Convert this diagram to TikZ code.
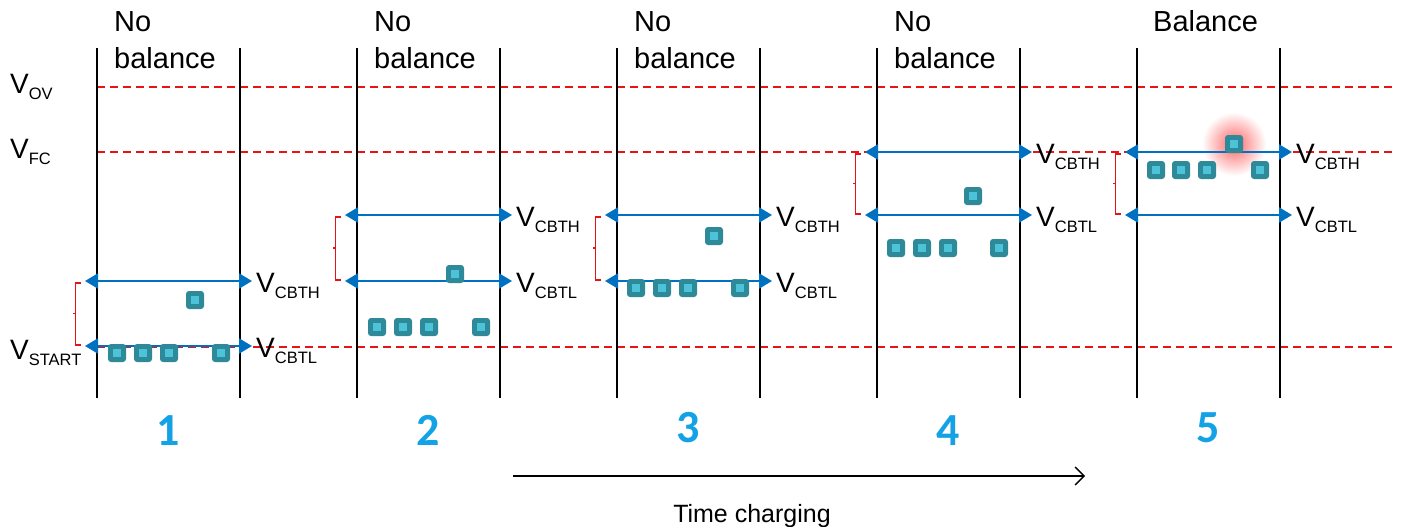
\documentclass[tikz,border=0pt]{standalone}
\usepackage{fontspec}
\setmainfont{Liberation Sans}
\newfontfamily\numfont{Carlito}
\usetikzlibrary{arrows.meta}
\definecolor{lvblue}{RGB}{0,112,192}
\definecolor{lvred}{RGB}{230,20,20}
\definecolor{cellout}{RGB}{46,138,152}
\definecolor{cellin}{RGB}{77,195,218}
\definecolor{numblue}{RGB}{20,162,230}
\newcommand{\vlab}[1]{{\fontsize{28}{28}\selectfont V}\raisebox{-6.5pt}{\fontsize{16.5}{16.5}\selectfont #1}}
\tikzset{
  panelline/.style={black, line width=1.8pt},
  lvline/.style={lvred, line width=1.4pt, dash pattern=on 8pt off 5pt},
  thresh/.style={lvblue, line width=2.2pt, {Triangle[length=13pt,width=15pt]}-{Triangle[length=13pt,width=15pt]}, shorten <=-12pt, shorten >=-12pt},
  bracketline/.style={draw=lvred, line width=1.2pt},
  vtext/.style={anchor=base west, inner sep=0pt},
  titletext/.style={anchor=base west, inner sep=0pt, font=\fontsize{29}{29}\selectfont},
  numtext/.style={anchor=base, inner sep=0pt, text=numblue, font=\numfont\bfseries\fontsize{46}{46}\selectfont},
  cellbox/.style={draw=none, fill=cellout, rounded corners=3pt, minimum size=18pt, inner sep=0pt},
  cellcore/.style={fill=cellin, minimum size=8pt, inner sep=0pt, draw=none},
}
\newcommand{\cellat}[3]{%
  \node[cellbox] (#1) at (#2,#3) {};
  \node[cellcore] (#1c) at (#2,#3) {};}
\begin{document}
\begin{tikzpicture}[x=1pt,y=-1pt]
\useasboundingbox (0,0) rectangle (1403,527);

% glow for the balanced cell (behind)
\shade[inner color=red!60, outer color=white] (1234,144) circle (32);

% voltage levels
\coordinate (ovL) at (97,87);   \coordinate (ovR) at (1395,87);
\coordinate (fcL) at (97,152);  \coordinate (fcR) at (1395,152);
\coordinate (stL) at (97,347);  \coordinate (stR) at (1395,347);
\draw[lvline] (ovL) -- (ovR);
\draw[lvline] (fcL) -- (fcR);
\draw[lvline] (stL) -- (stR);

\node[vtext] (vov) at (10,93) {\vlab{OV}};
\node[vtext] (vfc) at (10,158) {\vlab{FC}};
\node[vtext] (vst) at (10,359) {\vlab{START}};

% panels: left x, high y, low y
\foreach \i/\xl/\yh/\yl in {1/97/281/346, 2/357/215/281, 3/617/215/281, 4/877/152/215, 5/1137/152/215}{
  \pgfmathsetmacro{\xr}{\xl+143}
  \coordinate (t\i) at (\xl,48);
  \coordinate (b\i) at (\xl,398);
  \coordinate (tr\i) at (\xr,48);
  \coordinate (br\i) at (\xr,398);
  \draw[panelline] (t\i) -- (b\i);
  \draw[panelline] (tr\i) -- (br\i);
  \coordinate (hL\i) at (\xl,\yh);
  \coordinate (hR\i) at (\xr,\yh);
  \coordinate (lL\i) at (\xl,\yl);
  \coordinate (lR\i) at (\xr,\yl);
  \draw[thresh] (hL\i) -- (hR\i);
  \draw[thresh] (lL\i) -- (lR\i);
  \node[vtext] (vh\i) at (\xr+16,\yh+11) {\vlab{CBTH}};
  \node[vtext] (vl\i) at (\xr+16,\yl+11) {\vlab{CBTL}};
  % bracket
  \pgfmathsetmacro{\bx}{\xl-21.5}
  \pgfmathsetmacro{\bm}{(\yh+\yl)/2}
  \draw[bracketline] (\bx+5,\yh+2) -- (\bx,\yh+2) -- (\bx,\yl-1) -- (\bx+5,\yl-1);
  \draw[bracketline] (\bx,\bm) -- (\bx-3,\bm);
}

% titles
\node[titletext] (n1a) at (114,32) {No};
\node[titletext] (n1b) at (114,69) {balance};
\node[titletext] (n2a) at (374,32) {No};
\node[titletext] (n2b) at (374,69) {balance};
\node[titletext] (n3a) at (634,32) {No};
\node[titletext] (n3b) at (634,69) {balance};
\node[titletext] (n4a) at (894,32) {No};
\node[titletext] (n4b) at (894,69) {balance};
\node[titletext] (n5a) at (1153,32) {Balance};

% cells
\cellat{c11}{117}{353} \cellat{c12}{143}{353} \cellat{c13}{169}{353} \cellat{c14}{221}{353} \cellat{c15}{195}{300}
\cellat{c21}{377}{327} \cellat{c22}{403}{327} \cellat{c23}{429}{327} \cellat{c24}{481}{327} \cellat{c25}{455}{274}
\cellat{c31}{636}{288} \cellat{c32}{662}{288} \cellat{c33}{688}{288} \cellat{c34}{740}{288} \cellat{c35}{714}{236}
\cellat{c41}{896}{248} \cellat{c42}{922}{248} \cellat{c43}{948}{248} \cellat{c44}{999}{248} \cellat{c45}{973}{196}
\cellat{c51}{1156}{170} \cellat{c52}{1181}{170} \cellat{c53}{1207}{170} \cellat{c54}{1260}{170} \cellat{c55}{1234}{144}

% numbers
\node[numtext] (num1) at (168.5,445) {1};
\node[numtext] (num2) at (428.5,445) {2};
\node[numtext] (num3) at (688.5,442) {3};
\node[numtext] (num4) at (948.5,445) {4};
\node[numtext] (num5) at (1208.5,442) {5};

% time arrow
\coordinate (ta) at (513,476);
\coordinate (tb) at (1085,476);
\draw[black, line width=1.3pt, -{Straight Barb[length=9pt,width=18pt]}] (ta) -- (tb);
\node[anchor=base, inner sep=0pt, font=\fontsize{25}{25}\selectfont] (tc) at (752,522) {Time charging};
\end{tikzpicture}
\end{document}
